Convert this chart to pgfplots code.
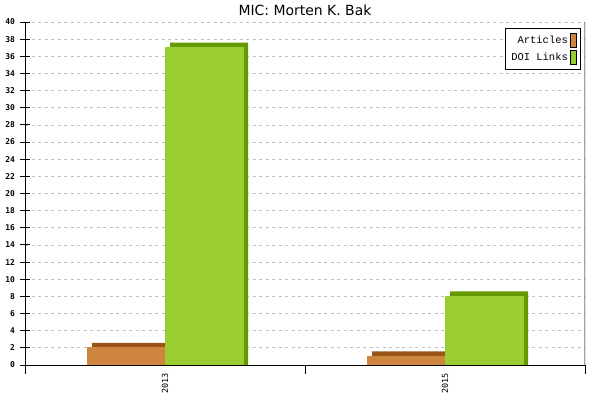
\documentclass[border=0pt]{standalone}
\usepackage{fontspec}
\setmainfont{DejaVu Sans}
\newfontfamily\monofont{DejaVu Sans Mono}
\newfontfamily\legfont{Liberation Mono}
\usepackage{pgfplots}
\usepackage{pgfplotstable}
\pgfplotsset{compat=1.18}
\definecolor{artF}{HTML}{CD853F}
\definecolor{artB}{HTML}{9A5516}
\definecolor{doiF}{HTML}{9ACD32}
\definecolor{doiB}{HTML}{669900}
\definecolor{gridc}{HTML}{C0C0C0}
\pgfplotstableread{
x articles doi
0 2 37
1 1 8
}\data
\begin{document}
\begin{tikzpicture}
\begin{axis}[
  name=ax,
  scale only axis,
  width=560bp, height=343bp,
  xmin=-0.5, xmax=1.5,
  ymin=0, ymax=40,
  ytick={0,2,...,40},
  axis x line*=bottom,
  axis y line*=left,
  axis line style={black, line width=0.9bp},
  tick align=center,
  major tick length=9bp,
  tick style={black, line width=0.9bp},
  ymajorgrids,
  major grid style={gridc, line width=0.7bp, dash pattern=on 3bp off 3.5bp},
  /pgf/number format/assume math mode=true,
  yticklabel style={font=\monofont\bfseries\fontsize{8}{9}\selectfont, xshift=-2bp},
  xtick={-0.5,0.5,1.5},
  xticklabels={},
  extra x ticks={0,1},
  extra x tick labels={2013,2015},
  extra x tick style={major tick length=0pt, xticklabel style={rotate=90, anchor=east, font=\monofont\fontsize{8.5}{9}\selectfont, xshift=-5bp}},
  ybar,
  bar width=78bp,
  legend style={at={(rel axis cs:0.993,0.982)}, anchor=north east, draw=black, line width=0.9bp, font=\legfont\fontsize{10.5}{12}\selectfont, inner xsep=4bp, inner ysep=4bp, row sep=3bp},
  legend cell align=right,
  legend plot pos=right,
  legend image code/.code={\draw[#1, draw=black, line width=0.8bp] (0bp,-7bp) rectangle (6bp,7bp);},
  title={MIC: Morten K. Bak},
  title style={font=\fontsize{14}{16}\selectfont, yshift=-3bp},
]
% back (shadow) faces
\addplot[fill=artB, draw=none, bar shift=-34bp, forget plot] table[x=x, y expr=\thisrow{articles}+0.583] {\data};
\addplot[fill=doiB, draw=none, bar shift=44bp, forget plot] table[x=x, y expr=\thisrow{doi}+0.583] {\data};
% front faces
\addplot[fill=artF, draw=artF, line width=1bp, bar shift=-39bp] table[x=x, y=articles] {\data};
\addplot[fill=doiF, draw=doiF, line width=1bp, bar shift=39bp] table[x=x, y=doi] {\data};
\legend{Articles, DOI Links}
\draw[black, line width=0.9bp] (rel axis cs:1,1) -- (rel axis cs:1,0) -- ++(0,-6bp);
\end{axis}
\pgfresetboundingbox
\path[use as bounding box] ([shift={(-25bp,-35bp)}]ax.south west) rectangle ([shift={(15bp,22bp)}]ax.north east);
\end{tikzpicture}
\end{document}
